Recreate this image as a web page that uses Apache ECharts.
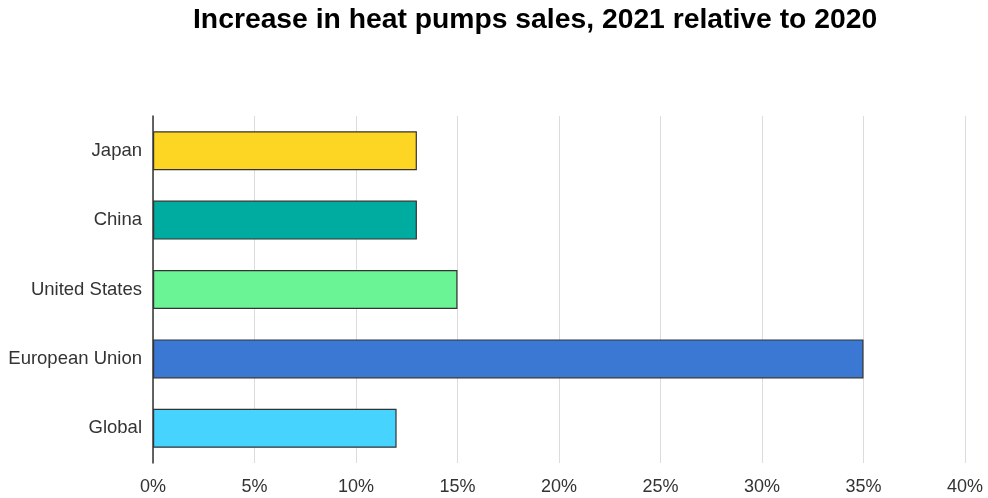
<!DOCTYPE html>
<html>
<head>
<meta charset="utf-8">
<script src="https://cdn.jsdelivr.net/npm/echarts@6/dist/echarts.min.js"></script>
<style>html,body{margin:0;padding:0;background:#fff}#c{width:988px;height:498px}</style>
</head>
<body>
<div id="c"></div>
<script>
const categories = ["Japan", "China", "United States", "European Union", "Global"];
const values = [13, 13, 15, 35, 12];
const barColors = ["#FDD523", "#00AB9F", "#6BF496", "#3B78D3", "#46D3FD"];
const xTicks = [0, 5, 10, 15, 20, 25, 30, 35, 40];

const chart = echarts.init(document.getElementById('c'), null, {renderer: 'canvas'});
chart.setOption({
  animation: false,
  title: {
    text: 'Increase in heat pumps sales, 2021 relative to 2020',
    left: 193, top: 6, padding: 0,
    textStyle: {fontFamily: 'Liberation Sans, Arial', fontWeight: 'bold', fontSize: 28.3, color: '#000'}
  },
  grid: {left: 153, right: 23, top: 116, bottom: 35, containLabel: false},
  xAxis: {
    type: 'value', min: xTicks[0], max: xTicks[xTicks.length - 1], interval: 5,
    axisLine: {show: false}, axisTick: {show: false},
    splitLine: {show: true, lineStyle: {color: '#dcdcdc', width: 1}},
    axisLabel: {formatter: v => v + '%', margin: 15, color: '#333', fontSize: 18, fontFamily: 'Liberation Sans, Arial'}
  },
  yAxis: {
    type: 'category', data: categories, inverse: true,
    axisLine: {show: true, lineStyle: {color: '#333', width: 1.5}},
    axisTick: {show: false},
    axisLabel: {margin: 11, color: '#333', fontSize: 18.5, fontFamily: 'Liberation Sans, Arial'}
  },
  series: [{
    type: 'bar',
    barWidth: 39,
    data: values.map((v, i) => ({value: v, itemStyle: {color: barColors[i]}})),
    itemStyle: {borderColor: '#333', borderWidth: 1.2}
  }]
});
</script>
</body>
</html>
